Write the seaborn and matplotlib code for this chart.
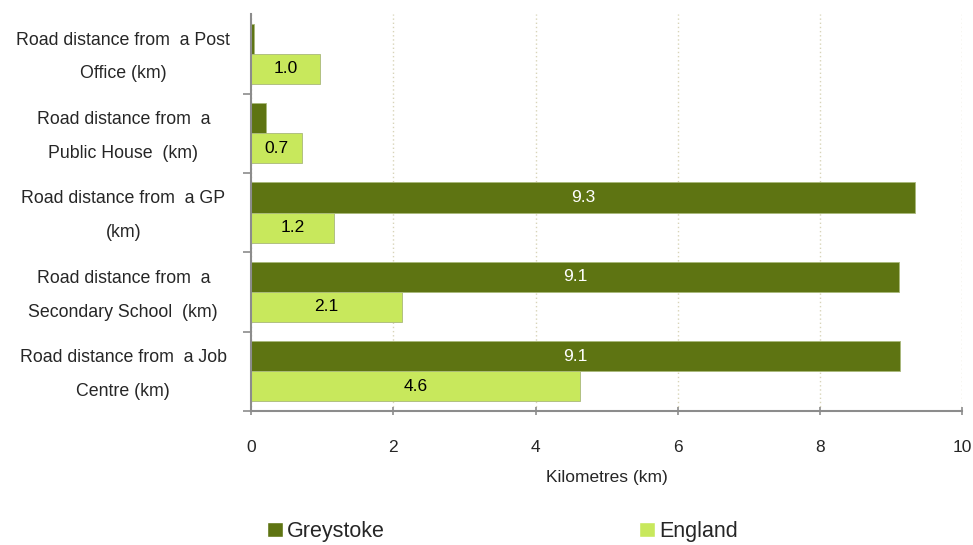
import pandas as pd
import matplotlib.pyplot as plt
import seaborn as sns
from matplotlib.patches import Patch

categories = ["Road distance from  a Post\nOffice (km)",
              "Road distance from  a\nPublic House  (km)",
              "Road distance from  a GP\n(km)",
              "Road distance from  a\nSecondary School  (km)",
              "Road distance from  a Job\nCentre (km)"]
greystoke = [0.04, 0.21, 9.33, 9.11, 9.13]
england = [0.97, 0.72, 1.17, 2.12, 4.63]
series = ["Greystoke", "England"]
colors = ["#5E7412", "#C8E85C"]

df = pd.DataFrame({
    "cat": categories * 2,
    "km": greystoke + england,
    "area": ["Greystoke"] * 5 + ["England"] * 5,
})

sns.set_style("white")
plt.rcParams["font.family"] = ["Liberation Sans", "DejaVu Sans"]

fig = plt.figure(figsize=(9.73, 5.45), dpi=100)
ax = fig.add_axes([0.258, 0.246, 0.731, 0.728])

sns.barplot(data=df, y="cat", x="km", hue="area", hue_order=series,
            palette=colors, saturation=1, orient="h", width=0.76, ax=ax,
            legend=False, edgecolor="#A9B87A", linewidth=0.6)

# value labels, skip the tiny Greystoke bars
for cont, vals, tc in zip(ax.containers, [greystoke, england], ["white", "black"]):
    for bar, v in zip(cont, vals):
        if v < 0.5:
            continue
        ax.text(bar.get_x() + bar.get_width() / 2, bar.get_y() + bar.get_height() / 2,
                f"{v:.1f}", ha="center", va="center", color=tc, fontsize=12.5)

ax.set_xlim(0, 10)
ax.set_ylim(4.5, -0.5)
ax.set_xticks([0, 2, 4, 6, 8, 10])
ax.set_yticks([0.5, 1.5, 2.5, 3.5, 4.5], minor=False)
ax.set_yticklabels([])
ax.set_yticks([0.04, 1.04, 2.04, 3.04, 4.04], minor=True)
ax.set_yticklabels(categories, minor=True, fontsize=12.8, linespacing=2.3,
                   ha="center", va="center")
ax.tick_params(axis="y", which="minor", left=False, length=0, pad=92)
ax.tick_params(axis="y", which="major", left=True, length=6, width=1.2,
               color="#8C8C8C", direction="out")
ax.tick_params(axis="x", bottom=True, length=6, width=1.2, color="#8C8C8C",
               direction="inout", labelsize=12.5, pad=18)
ax.set_ylabel("")
ax.set_xlabel("Kilometres (km)", fontsize=12.5, labelpad=11)

ax.grid(axis="x", color="#D8D4B8", linestyle=(0, (1, 2)), linewidth=1)
ax.set_axisbelow(True)
for s in ["top", "right"]:
    ax.spines[s].set_visible(False)
for s in ["left", "bottom"]:
    ax.spines[s].set_color("#8C8C8C")
    ax.spines[s].set_linewidth(1.5)

handles = [Patch(facecolor=c, label=s) for s, c in zip(series, colors)]
fig.legend(handles=handles, loc="lower left", bbox_to_anchor=(0.254, -0.03),
           ncol=2, frameon=False, fontsize=15.5, handlelength=0.75,
           handleheight=0.75, handletextpad=0.2, columnspacing=11.8)

fig.savefig("out.png", dpi=100)
